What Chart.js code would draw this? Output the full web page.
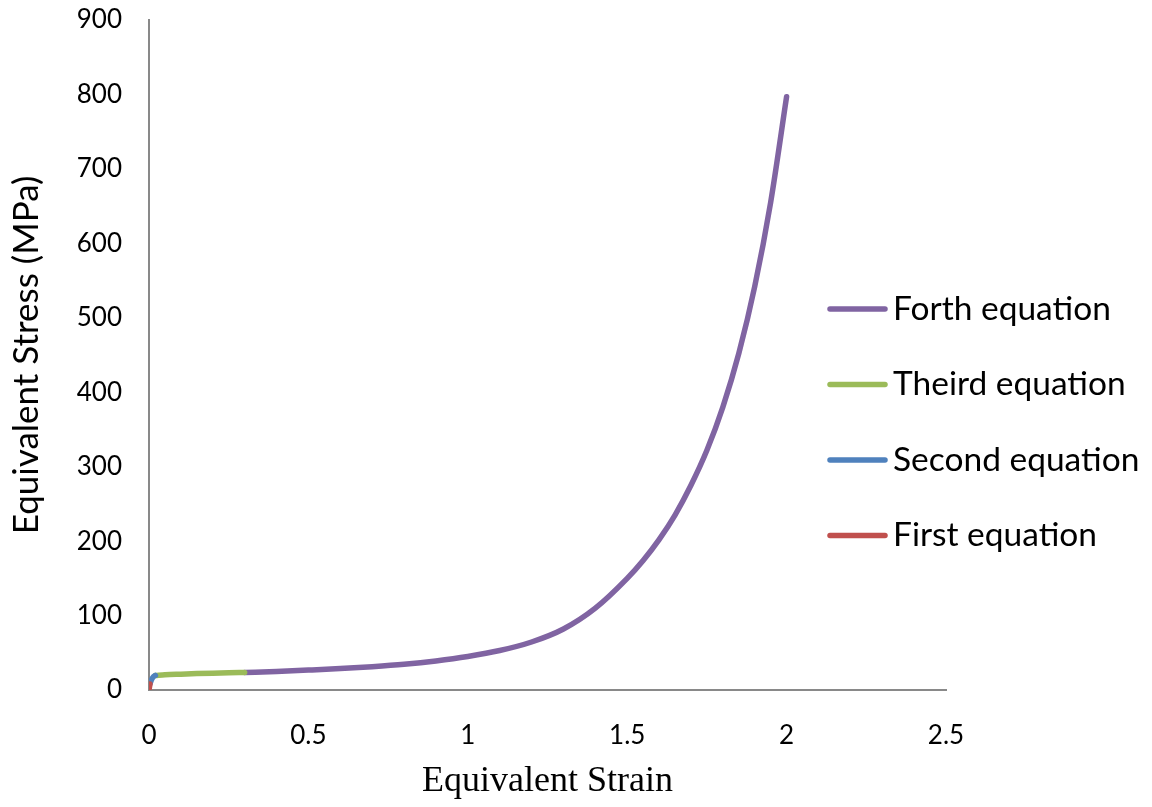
<!DOCTYPE html>
<html>
<head>
<meta charset="utf-8">
<script src="https://cdn.jsdelivr.net/npm/chart.js@4.4.1/dist/chart.umd.min.js"></script>
<style>
  body { margin: 0; background: #fff; }
  #wrap { width: 1152px; height: 807px; }
</style>
</head>
<body>
<div id="wrap"><canvas id="stress" width="1152" height="807"></canvas></div>
<script>
// values (strain, stress in MPa)
const firstStrain = [0, 0.003];
const firstStress = [0, 8];

const secondStrain = [0.003, 0.008, 0.014, 0.02];
const secondStress = [8, 14, 18, 19.5];

const thirdStrain = [0.02, 0.05, 0.1, 0.15, 0.2, 0.25, 0.3];
const thirdStress = [19.5, 20.5, 21.3, 22, 22.6, 23.1, 23.5];

const forthStrain = [0.3, 0.4, 0.5, 0.6, 0.7, 0.8, 0.9, 1.0, 1.1, 1.2, 1.3, 1.4, 1.5, 1.55, 1.6, 1.65, 1.7, 1.75, 1.8, 1.85, 1.9, 1.95, 2.0];
const forthStress = [23.5, 25, 26.8, 28.8, 31.3, 34.5, 39, 45, 53, 64.5, 82, 110, 150, 174, 202, 235, 275, 322, 380, 452, 542, 655, 797];

const seriesNames = ['First equation', 'Second equation', 'Theird equation', 'Forth equation'];
const seriesColors = ['#C0504D', '#4F81BD', '#9BBB59', '#8064A2'];

const xTicks = [0, 0.5, 1, 1.5, 2, 2.5];
const yTicks = [0, 100, 200, 300, 400, 500, 600, 700, 800, 900];

function pts(xs, ys) {
  return xs.map((x, i) => ({ x: x, y: ys[i] }));
}

const lines = [
  pts(firstStrain, firstStress),
  pts(secondStrain, secondStress),
  pts(thirdStrain, thirdStress),
  pts(forthStrain, forthStress)
];

const datasets = lines.map((d, i) => ({
  label: seriesNames[i],
  data: d,
  borderColor: seriesColors[i],
  backgroundColor: seriesColors[i],
  borderWidth: 5.5,
  borderCapStyle: 'round',
  borderJoinStyle: 'round',
  pointRadius: 0,
  cubicInterpolationMode: 'monotone',
  fill: false
}));

// legend sits inside the plot on the right, last series first
const sideLegend = {
  id: 'sideLegend',
  afterDraw(chart) {
    const ctx = chart.ctx;
    const sets = chart.data.datasets.slice().reverse();
    ctx.save();
    sets.forEach((ds, i) => {
      const y = 309 + i * 75.5;
      ctx.strokeStyle = ds.borderColor;
      ctx.lineWidth = 5.5;
      ctx.lineCap = 'round';
      ctx.beginPath();
      ctx.moveTo(830, y);
      ctx.lineTo(885, y);
      ctx.stroke();
      ctx.fillStyle = '#000';
      ctx.font = '33.5px Lato';
      ctx.textBaseline = 'middle';
      ctx.textAlign = 'left';
      ctx.fillText(ds.label, 893, y);
    });
    ctx.restore();
  }
};

const tickFont = { family: 'Lato', size: 26 };

new Chart(document.getElementById('stress'), {
  type: 'line',
  data: { datasets: datasets },
  options: {
    responsive: false,
    animation: false,
    layout: { padding: { left: 4, top: 20, right: 206, bottom: 4 } },
    plugins: {
      legend: { display: false },
      tooltip: { enabled: false }
    },
    scales: {
      x: {
        type: 'linear',
        min: 0,
        max: 2.5,
        afterBuildTicks: s => { s.ticks = xTicks.map(v => ({ value: v })); },
        afterFit: s => {
          s.height = 807 - 690 - 4;
          s.paddingLeft = 0;
          s.paddingRight = 0;
        },
        grid: { display: false, drawTicks: false },
        border: { display: true, color: '#898989', width: 2 },
        ticks: { color: '#000', font: tickFont, padding: 30, maxRotation: 0, callback: v => String(v) },
        title: {
          display: true,
          text: 'Equivalent Strain',
          color: '#000',
          font: { family: 'Liberation Serif', size: 36 },
          padding: { top: 0, bottom: 0 }
        }
      },
      y: {
        type: 'linear',
        min: 0,
        max: 900,
        afterBuildTicks: s => { s.ticks = yTicks.map(v => ({ value: v })); },
        afterFit: s => {
          s.width = 149 - 4;
          s.paddingTop = 0;
          s.paddingBottom = 0;
        },
        grid: { display: false, drawTicks: false },
        border: { display: true, color: '#898989', width: 2 },
        ticks: { color: '#000', font: tickFont, padding: 27, callback: v => String(v) },
        title: {
          display: true,
          text: 'Equivalent Stress (MPa)',
          color: '#000',
          font: { family: 'Lato', size: 35 },
          padding: { top: 2, bottom: 0 }
        }
      }
    }
  },
  plugins: [sideLegend]
});
</script>
</body>
</html>
